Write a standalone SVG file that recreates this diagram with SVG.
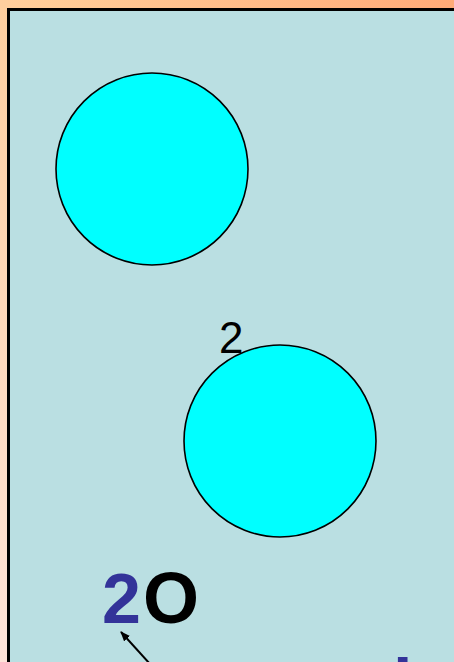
<svg xmlns="http://www.w3.org/2000/svg" width="454" height="662" viewBox="0 0 454 662">
<defs>
<linearGradient id="bg" x1="1" y1="0" x2="0" y2="1">
<stop offset="0" stop-color="#FFAA78"/>
<stop offset="0.45" stop-color="#FFCC98"/>
<stop offset="1" stop-color="#FFE4DA"/>
</linearGradient>
<marker id="ah" markerWidth="10" markerHeight="8" refX="9" refY="4" orient="auto" markerUnits="userSpaceOnUse">
<path d="M0,0 L10,4 L0,8 Z" fill="#000"/>
</marker>
<style>
.ball{fill:#00FFFF;stroke:#000;stroke-width:1.6}
.lbl{font-family:"Liberation Sans",Arial,sans-serif}
</style>
</defs>
<rect x="0" y="0" width="454" height="662" fill="url(#bg)"/>
<rect x="8.5" y="9.5" width="470" height="680" fill="#BADFE2" stroke="#000" stroke-width="3"/>
<g id="atom1"><circle class="ball" cx="152" cy="169" r="96"/></g>
<g id="atom2"><circle class="ball" cx="280" cy="441" r="96"/></g>
<g id="label-2"><text class="lbl" x="219" y="353" font-size="44" fill="#000">2</text></g>
<g id="formula"><text class="lbl" x="102" y="623" font-size="70" font-weight="bold"><tspan fill="#333399">2</tspan><tspan fill="#000" dx="2" font-size="72">O</tspan></text></g>
<g id="partial"><text class="lbl" x="393" y="708" font-size="70" font-weight="bold" fill="#333399">l</text></g>
<g id="connectors"><line x1="150" y1="664" x2="121" y2="632" stroke="#000" stroke-width="2" marker-end="url(#ah)"/></g>
</svg>
